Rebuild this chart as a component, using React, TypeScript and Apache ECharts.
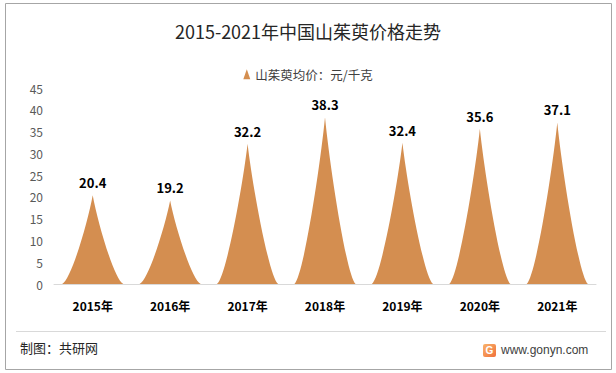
import React, { useEffect, useRef } from "react";
import * as echarts from "echarts";

const categories = ["2015年", "2016年", "2017年", "2018年", "2019年", "2020年", "2021年"];
const prices = [20.4, 19.2, 32.2, 38.3, 32.4, 35.6, 37.1];
const seriesName = "山茱萸均价：元/千克";
const titleText = "2015-2021年中国山茱萸价格走势";
const sourceText = "制图：共研网";
const siteText = "www.gonyn.com";

const FONT = "'Noto Sans CJK SC', 'Microsoft YaHei', sans-serif";

export default function App() {
  const ref = useRef<HTMLDivElement>(null);
  useEffect(() => {
    if (!ref.current) return;
    const chart = echarts.init(ref.current, undefined, { renderer: "svg" });
    chart.setOption({
      animation: false,
      backgroundColor: "#ffffff",
      textStyle: { fontFamily: FONT },
      title: {
        text: titleText,
        left: "center",
        top: 17,
        textStyle: { fontSize: 18, fontWeight: "normal", color: "#262626", fontFamily: FONT },
      },
      legend: {
        data: [{ name: seriesName, icon: "triangle" }],
        top: 63,
        left: "center",
        itemWidth: 7,
        itemHeight: 10,
        itemGap: 4,
        textStyle: { fontSize: 12.5, color: "#404040", fontFamily: FONT },
      },
      grid: { left: 54, right: 20, top: 88, bottom: 89 },
      xAxis: {
        type: "category",
        data: categories,
        axisLine: { lineStyle: { color: "#d9d9d9" } },
        axisTick: { show: false },
        axisLabel: { fontSize: 12, fontWeight: "bold", color: "#000", margin: 15, fontFamily: FONT },
      },
      yAxis: {
        type: "value",
        min: 0,
        max: 45,
        interval: 5,
        axisLine: { show: false },
        axisTick: { show: false },
        splitLine: { show: false },
        axisLabel: { fontSize: 12, color: "#595959", margin: 11, fontFamily: FONT },
      },
      series: [
        {
          name: seriesName,
          type: "pictorialBar",
          symbol: "path://M0,10 L10,10 C8.5,9.5 5.8,3 5,0 C4.2,3 1.5,9.5 0,10 z",
          barWidth: 61,
          symbolSize: ["100%", "100%"],
          data: prices,
          itemStyle: { color: "#D48E50" },
          label: {
            show: true,
            position: "top",
            distance: 6,
            fontSize: 13,
            fontWeight: "bold",
            color: "#000",
            fontFamily: FONT,
          },
        },
      ],
      graphic: [
        {
          type: "rect",
          shape: { x: 5.5, y: 3.5, width: 606, height: 366 },
          style: { fill: "none", stroke: "#a6a6a6", lineWidth: 1 },
          silent: true,
        },
        {
          type: "line",
          shape: { x1: 16, y1: 331.5, x2: 606, y2: 331.5 },
          style: { stroke: "#d9d9d9", lineWidth: 1 },
        },
        {
          type: "text",
          left: 20,
          top: 341,
          style: { text: sourceText, fontSize: 13, fill: "#262626", fontFamily: FONT },
        },
        {
          type: "rect",
          shape: { x: 483, y: 344, width: 13, height: 13, r: 2 },
          style: {
            fill: new echarts.graphic.LinearGradient(0, 0, 1, 1, [
              { offset: 0, color: "#f9b36b" },
              { offset: 1, color: "#f0703a" },
            ]),
          },
        },
        {
          type: "text",
          x: 489.5,
          y: 350.5,
          style: {
            text: "G",
            fontSize: 10,
            fontWeight: "bold",
            fill: "#fff",
            align: "center",
            verticalAlign: "middle",
            fontFamily: "Arial, sans-serif",
          },
        },
        {
          type: "text",
          x: 501,
          y: 350,
          style: {
            text: siteText,
            fontSize: 12,
            fill: "#404040",
            verticalAlign: "middle",
            fontFamily: "'Liberation Sans', Arial, sans-serif",
          },
        },
      ],
    });
    return () => chart.dispose();
  }, []);
  return (
    <div
      ref={ref}
      style={{ position: "absolute", left: 0, top: 0, width: 616, height: 373 }}
    />
  );
}
